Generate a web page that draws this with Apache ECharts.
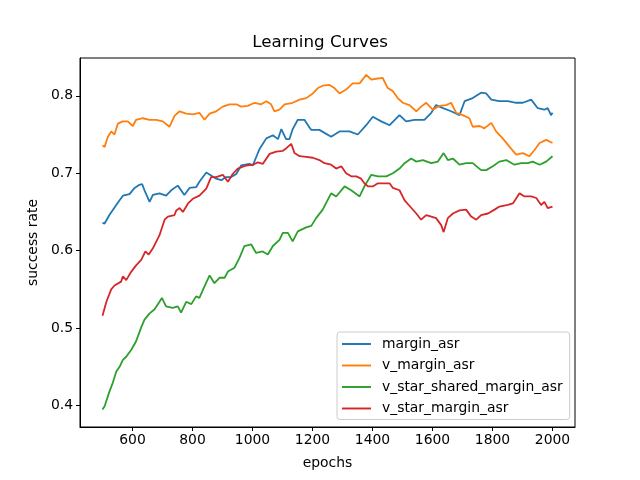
<!DOCTYPE html>
<html>
<head>
<meta charset="utf-8">
<script src="https://cdn.jsdelivr.net/npm/echarts@6/dist/echarts.min.js"></script>
<style>
    html, body { margin: 0; padding: 0; background: #fff; }
    #chart { width: 640px; height: 480px; }
</style>
</head>
<body>
<div id="chart"></div>
<script>
(function (window, echarts) {
    'use strict';

    // values
    const marginEpochs = [500, 507, 523, 551, 568, 590, 607, 623, 632, 640, 657, 668, 690, 712, 729, 751, 773, 790, 812, 823, 846, 862, 879, 896, 912, 929, 946, 962, 990, 1001, 1023, 1046, 1068, 1085, 1096, 1112, 1123, 1134, 1151, 1173, 1190, 1196, 1223, 1262, 1290, 1323, 1351, 1379, 1401, 1429, 1457, 1490, 1512, 1540, 1573, 1596, 1612, 1635, 1662, 1690, 1707, 1734, 1762, 1779, 1796, 1823, 1851, 1879, 1901, 1929, 1951, 1973, 1984, 1995, 2000];
    const marginAsr = [0.636, 0.635, 0.646, 0.662, 0.671, 0.673, 0.681, 0.685, 0.686, 0.678, 0.663, 0.672, 0.674, 0.671, 0.678, 0.684, 0.672, 0.681, 0.682, 0.689, 0.701, 0.697, 0.693, 0.691, 0.695, 0.695, 0.699, 0.710, 0.712, 0.710, 0.731, 0.745, 0.749, 0.744, 0.757, 0.744, 0.744, 0.757, 0.769, 0.769, 0.759, 0.756, 0.756, 0.747, 0.754, 0.754, 0.750, 0.762, 0.773, 0.767, 0.762, 0.775, 0.767, 0.769, 0.769, 0.778, 0.788, 0.784, 0.780, 0.775, 0.793, 0.797, 0.804, 0.803, 0.795, 0.793, 0.793, 0.791, 0.791, 0.795, 0.784, 0.782, 0.784, 0.775, 0.778];

    const vMarginEpochs = [500, 507, 518, 529, 540, 551, 568, 584, 601, 612, 634, 657, 679, 701, 723, 740, 757, 779, 801, 823, 840, 857, 879, 901, 923, 946, 962, 984, 1007, 1029, 1046, 1062, 1073, 1090, 1107, 1134, 1157, 1179, 1201, 1218, 1234, 1257, 1273, 1290, 1312, 1334, 1357, 1379, 1396, 1412, 1434, 1451, 1468, 1484, 1501, 1523, 1546, 1562, 1579, 1601, 1623, 1646, 1662, 1679, 1701, 1723, 1734, 1757, 1773, 1796, 1812, 1834, 1857, 1879, 1901, 1923, 1940, 1957, 1979, 2000];
    const vMarginAsr = [0.736, 0.734, 0.747, 0.754, 0.750, 0.764, 0.767, 0.767, 0.761, 0.769, 0.771, 0.769, 0.769, 0.767, 0.760, 0.774, 0.780, 0.777, 0.776, 0.778, 0.769, 0.777, 0.780, 0.786, 0.789, 0.789, 0.786, 0.787, 0.791, 0.789, 0.793, 0.789, 0.780, 0.782, 0.789, 0.791, 0.795, 0.797, 0.803, 0.810, 0.813, 0.814, 0.810, 0.803, 0.808, 0.816, 0.816, 0.827, 0.821, 0.822, 0.823, 0.810, 0.806, 0.797, 0.791, 0.788, 0.780, 0.786, 0.791, 0.782, 0.787, 0.788, 0.791, 0.778, 0.775, 0.771, 0.760, 0.761, 0.758, 0.765, 0.754, 0.745, 0.734, 0.724, 0.726, 0.722, 0.730, 0.739, 0.743, 0.739];

    const vStarSharedEpochs = [500, 507, 523, 534, 546, 557, 568, 579, 596, 612, 629, 640, 657, 673, 690, 698, 712, 734, 751, 762, 779, 796, 812, 823, 840, 857, 873, 890, 907, 918, 940, 957, 973, 996, 1012, 1034, 1051, 1068, 1090, 1101, 1118, 1134, 1151, 1179, 1196, 1212, 1234, 1262, 1279, 1307, 1329, 1357, 1373, 1396, 1418, 1446, 1468, 1490, 1507, 1529, 1546, 1568, 1596, 1618, 1637, 1651, 1668, 1690, 1712, 1734, 1762, 1779, 1801, 1823, 1846, 1873, 1896, 1918, 1934, 1957, 1979, 2000];
    const vStarSharedMarginAsr = [0.395, 0.399, 0.418, 0.429, 0.444, 0.450, 0.459, 0.463, 0.472, 0.483, 0.501, 0.511, 0.519, 0.524, 0.534, 0.539, 0.528, 0.526, 0.528, 0.520, 0.534, 0.531, 0.541, 0.539, 0.554, 0.568, 0.558, 0.565, 0.565, 0.573, 0.578, 0.591, 0.606, 0.608, 0.597, 0.599, 0.595, 0.606, 0.614, 0.623, 0.623, 0.612, 0.625, 0.630, 0.632, 0.642, 0.653, 0.674, 0.670, 0.683, 0.678, 0.670, 0.683, 0.698, 0.696, 0.696, 0.700, 0.706, 0.713, 0.719, 0.715, 0.717, 0.713, 0.715, 0.726, 0.717, 0.719, 0.711, 0.713, 0.713, 0.704, 0.704, 0.709, 0.715, 0.717, 0.711, 0.713, 0.713, 0.715, 0.711, 0.715, 0.722];

    const vStarEpochs = [500, 513, 529, 540, 562, 568, 579, 596, 612, 629, 643, 654, 668, 690, 707, 718, 740, 746, 757, 768, 785, 801, 823, 846, 862, 879, 901, 918, 934, 951, 979, 1001, 1018, 1034, 1057, 1079, 1101, 1112, 1129, 1140, 1157, 1179, 1201, 1223, 1240, 1262, 1279, 1296, 1312, 1329, 1346, 1362, 1373, 1385, 1401, 1418, 1440, 1457, 1468, 1490, 1507, 1523, 1546, 1562, 1579, 1596, 1612, 1629, 1637, 1651, 1668, 1690, 1712, 1729, 1746, 1762, 1785, 1807, 1823, 1851, 1868, 1890, 1907, 1929, 1946, 1962, 1973, 1984, 2000];
    const vStarMarginAsr = [0.516, 0.534, 0.550, 0.555, 0.560, 0.567, 0.562, 0.573, 0.581, 0.588, 0.599, 0.595, 0.603, 0.620, 0.640, 0.644, 0.646, 0.652, 0.655, 0.650, 0.661, 0.667, 0.671, 0.680, 0.695, 0.695, 0.698, 0.689, 0.699, 0.706, 0.710, 0.711, 0.714, 0.712, 0.725, 0.728, 0.729, 0.732, 0.738, 0.726, 0.722, 0.721, 0.720, 0.717, 0.713, 0.711, 0.706, 0.709, 0.700, 0.696, 0.696, 0.693, 0.687, 0.683, 0.683, 0.687, 0.687, 0.687, 0.681, 0.678, 0.665, 0.658, 0.648, 0.640, 0.646, 0.644, 0.642, 0.633, 0.624, 0.642, 0.648, 0.652, 0.653, 0.644, 0.640, 0.646, 0.648, 0.653, 0.657, 0.659, 0.661, 0.674, 0.670, 0.670, 0.668, 0.659, 0.663, 0.655, 0.657];

    const xTicks = [600, 800, 1000, 1200, 1400, 1600, 1800, 2000];
    const yTicks = [0.4, 0.5, 0.6, 0.7, 0.8];

    const font = 'DejaVu Sans';
    const zip = (xs, ys) => xs.map((x, i) => [x, ys[i]]);

    const makeSeries = (name, color, xs, ys) => ({
        name: name,
        type: 'line',
        data: zip(xs, ys),
        showSymbol: false,
        symbol: 'none',
        lineStyle: { color: color, width: 1.8 },
        itemStyle: { color: color },
        emphasis: { disabled: true },
        animation: false
    });

    const chart = echarts.init(document.getElementById('chart'), null, { renderer: 'canvas' });

    chart.setOption({
        backgroundColor: '#fff',
        animation: false,
        textStyle: { fontFamily: font },
        title: {
            text: 'Learning Curves',
            left: 'center',
            top: 34,
            padding: [0, 0, 0, 15],
            textStyle: { fontFamily: font, fontSize: 16.7, fontWeight: 'normal', color: '#000' }
        },
        grid: {
            left: 80,
            right: 65,
            top: 58,
            bottom: 53,
            show: true,
            borderColor: '#000',
            borderWidth: 1,
            backgroundColor: 'transparent'
        },
        legend: {
            orient: 'vertical',
            left: 337,
            top: 332,
            icon: 'path://M0,0 L30,0 L30,2 L0,2 Z',
            itemWidth: 29,
            itemHeight: 14,
            itemGap: 7.5,
            padding: [5, 7, 4, 5],
            borderColor: '#cccccc',
            borderWidth: 1,
            borderRadius: 3,
            backgroundColor: 'rgba(255,255,255,0.8)',
            textStyle: { fontFamily: font, fontSize: 13.9, color: '#000', padding: [0, 0, 0, 6] },
            data: ['margin_asr', 'v_margin_asr', 'v_star_shared_margin_asr', 'v_star_margin_asr']
        },
        xAxis: {
            type: 'value',
            min: 425,
            max: 2075,
            name: 'epochs',
            nameLocation: 'middle',
            nameGap: 29,
            nameTextStyle: { fontFamily: font, fontSize: 13.9, color: '#000' },
            splitLine: { show: false },
            axisLine: { show: true, lineStyle: { color: '#000', width: 1 } },
            axisTick: { show: true, inside: false, length: 4, customValues: xTicks, lineStyle: { color: '#000' } },
            axisLabel: {
                show: true, customValues: xTicks, margin: 6,
                fontFamily: font, fontSize: 13.9, color: '#000',
                formatter: v => String(v)
            }
        },
        yAxis: {
            type: 'value',
            min: 0.3723,
            max: 0.8488,
            name: 'success rate',
            nameLocation: 'middle',
            nameGap: 38,
            nameTextStyle: { fontFamily: font, fontSize: 13.9, color: '#000' },
            splitLine: { show: false },
            axisLine: { show: true, lineStyle: { color: '#000', width: 1 } },
            axisTick: { show: true, inside: false, length: 4, customValues: yTicks, lineStyle: { color: '#000' } },
            axisLabel: {
                show: true, customValues: yTicks, margin: 7,
                fontFamily: font, fontSize: 13.9, color: '#000',
                formatter: v => v.toFixed(1)
            }
        },
        series: [
            makeSeries('margin_asr', '#1f77b4', marginEpochs, marginAsr),
            makeSeries('v_margin_asr', '#ff7f0e', vMarginEpochs, vMarginAsr),
            makeSeries('v_star_shared_margin_asr', '#2ca02c', vStarSharedEpochs, vStarSharedMarginAsr),
            makeSeries('v_star_margin_asr', '#d62728', vStarEpochs, vStarMarginAsr)
        ]
    });

})(window, echarts);
</script>
</body>
</html>
